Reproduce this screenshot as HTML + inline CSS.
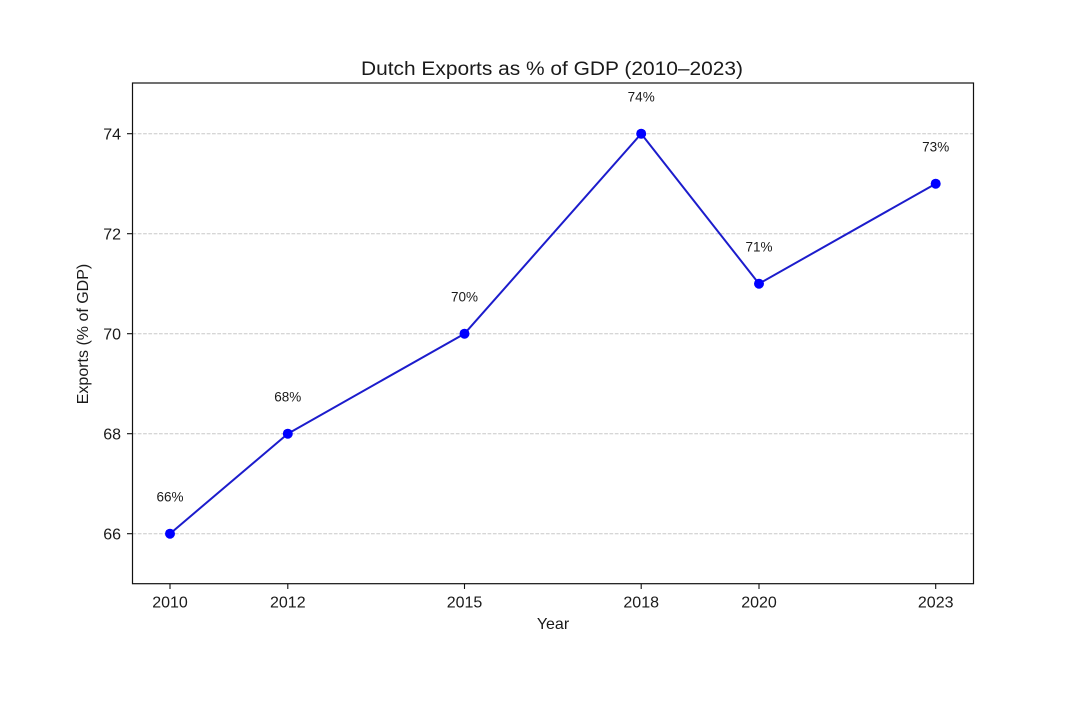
<!DOCTYPE html>
<html>
<head>
<meta charset="utf-8">
<style>
html,body{margin:0;padding:0;background:#fff;}
svg{display:block;}
text{font-family:"Liberation Sans","DejaVu Sans",sans-serif;fill:#1a1a1a;}
</style>
</head>
<body>
<svg width="1079" height="713" viewBox="0 0 1079 713" xmlns="http://www.w3.org/2000/svg">
<rect width="1079" height="713" fill="#fff"/>
<!-- grid -->
<g stroke="#c8c8c8" stroke-width="1" stroke-dasharray="3.7 1.6">
<line x1="132.5" y1="133.7" x2="973.5" y2="133.7"/>
<line x1="132.5" y1="233.7" x2="973.5" y2="233.7"/>
<line x1="132.5" y1="333.7" x2="973.5" y2="333.7"/>
<line x1="132.5" y1="433.7" x2="973.5" y2="433.7"/>
<line x1="132.5" y1="533.7" x2="973.5" y2="533.7"/>
</g>
<!-- axes box -->
<rect x="132.5" y="83" width="841" height="500.7" fill="none" stroke="#111" stroke-width="1.2"/>
<!-- y ticks -->
<g stroke="#111" stroke-width="1.1">
<line x1="127" y1="133.7" x2="132.5" y2="133.7"/>
<line x1="127" y1="233.7" x2="132.5" y2="233.7"/>
<line x1="127" y1="333.7" x2="132.5" y2="333.7"/>
<line x1="127" y1="433.7" x2="132.5" y2="433.7"/>
<line x1="127" y1="533.7" x2="132.5" y2="533.7"/>
<line x1="170" y1="583.7" x2="170" y2="589"/>
<line x1="287.8" y1="583.7" x2="287.8" y2="589"/>
<line x1="464.5" y1="583.7" x2="464.5" y2="589"/>
<line x1="641.2" y1="583.7" x2="641.2" y2="589"/>
<line x1="759" y1="583.7" x2="759" y2="589"/>
<line x1="935.7" y1="583.7" x2="935.7" y2="589"/>
</g>
<g font-size="16" text-anchor="end">
<text x="121" y="139.5">74</text>
<text x="121" y="239.5">72</text>
<text x="121" y="339.5">70</text>
<text x="121" y="439.5">68</text>
<text x="121" y="539.5">66</text>
</g>
<g font-size="16" text-anchor="middle">
<text x="170" y="607.5">2010</text>
<text x="287.8" y="607.5">2012</text>
<text x="464.5" y="607.5">2015</text>
<text x="641.2" y="607.5">2018</text>
<text x="759" y="607.5">2020</text>
<text x="935.7" y="607.5">2023</text>
</g>
<text x="553" y="629" font-size="16" text-anchor="middle">Year</text>
<text transform="translate(88,334) rotate(-90)" font-size="16" text-anchor="middle">Exports (% of GDP)</text>
<text x="552" y="75" font-size="19" text-anchor="middle" textLength="382" lengthAdjust="spacingAndGlyphs">Dutch Exports as % of GDP (2010–2023)</text>
<!-- series -->
<polyline points="170,533.7 287.8,433.7 464.5,333.7 641.2,133.7 759,283.7 935.7,183.7" fill="none" stroke="#1c1ccc" stroke-width="2" stroke-linejoin="round"/>
<g fill="#0000ff">
<circle cx="170" cy="533.7" r="5"/>
<circle cx="287.8" cy="433.7" r="5"/>
<circle cx="464.5" cy="333.7" r="5"/>
<circle cx="641.2" cy="133.7" r="5"/>
<circle cx="759" cy="283.7" r="5"/>
<circle cx="935.7" cy="183.7" r="5"/>
</g>
<g font-size="13.5" text-anchor="middle">
<text x="170" y="501.5">66%</text>
<text x="287.8" y="401.5">68%</text>
<text x="464.5" y="301.5">70%</text>
<text x="641.2" y="101.5">74%</text>
<text x="759" y="251.5">71%</text>
<text x="935.7" y="151.5">73%</text>
</g>
</svg>
</body>
</html>
